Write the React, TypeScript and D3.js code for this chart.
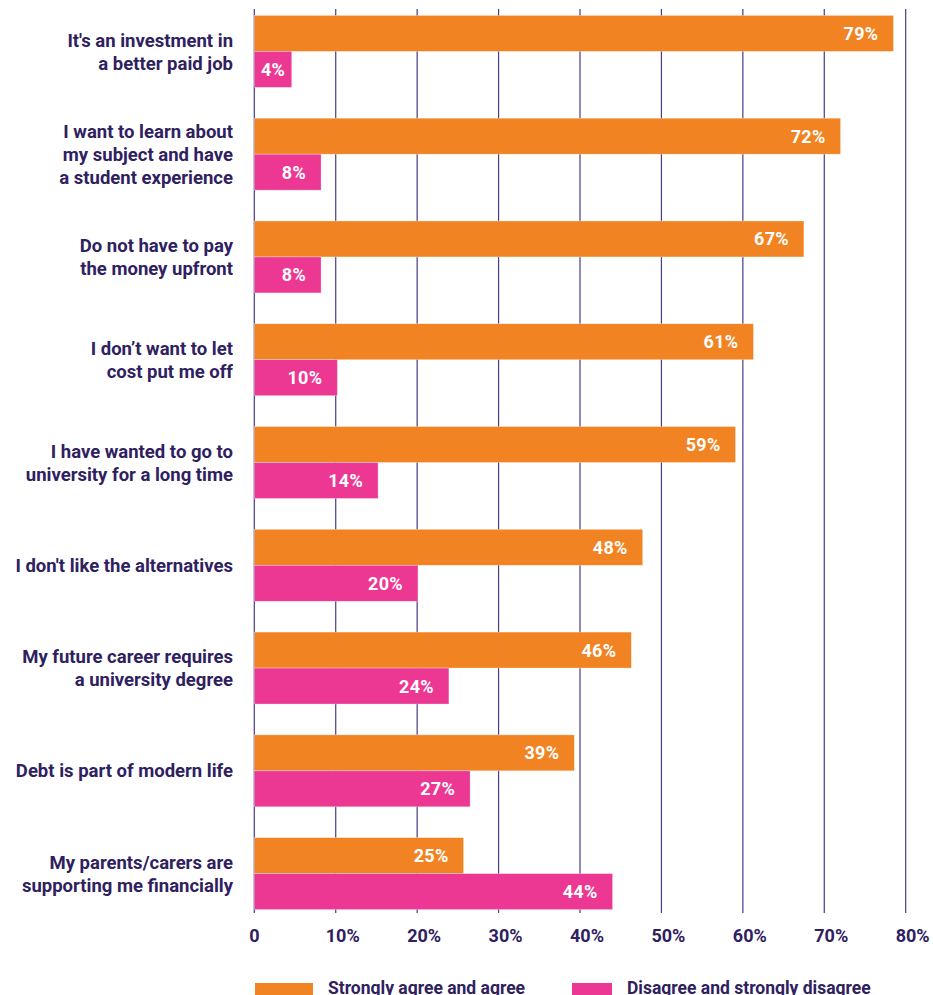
import React from "react";
import * as d3 from "d3";

const categories = [
  "It's an investment in\na better paid job",
  "I want to learn about\nmy subject and have\na student experience",
  "Do not have to pay\nthe money upfront",
  "I don\u2019t want to let\ncost put me off",
  "I have wanted to go to\nuniversity for a long time",
  "I don't like the alternatives",
  "My future career requires\na university degree",
  "Debt is part of modern life",
  "My parents/carers are\nsupporting me financially",
];
const seriesNames = ["Strongly agree and agree", "Disagree and strongly disagree"];
const agreeValues = [78.5, 72, 67.5, 61.3, 59.1, 47.7, 46.3, 39.3, 25.7];
const agreeLabels = ["79%", "72%", "67%", "61%", "59%", "48%", "46%", "39%", "25%"];
const disagreeValues = [4.6, 8.2, 8.2, 10.2, 15.2, 20.1, 23.9, 26.5, 44.0];
const disagreeLabels = ["4%", "8%", "8%", "10%", "14%", "20%", "24%", "27%", "44%"];
const tickValues = [0, 10, 20, 30, 40, 50, 60, 70, 80];
const tickLabels = ["0", "10%", "20%", "30%", "40%", "50%", "60%", "70%", "80%"];

const ORANGE = "#F28322";
const PINK = "#EC3893";
const PURPLE = "#2F2160";
const GRID = "#4A3A8A";
const FONT = "Roboto, 'Liberation Sans', Arial, sans-serif";

export default function App() {
  const W = 933;
  const H = 995;
  const x = d3.scaleLinear().domain([0, 80]).range([254.3, 905.7]);
  const y = d3.scaleBand<string>().domain(categories).range([0, 925]).paddingInner(0.3).paddingOuter(0.15);
  const inner = d3.scaleBand<string>().domain(seriesNames).range([0, y.bandwidth()]);
  const colors = d3.scaleOrdinal<string, string>().domain(seriesNames).range([ORANGE, PINK]);
  const series = [
    { name: seriesNames[0], values: agreeValues, labels: agreeLabels },
    { name: seriesNames[1], values: disagreeValues, labels: disagreeLabels },
  ];
  const gridTop = 9;
  const gridBottom = 913;
  const lineH = 23;

  return (
    <svg width={W} height={H} style={{ position: "absolute", left: 0, top: 0, background: "#fff" }} fontFamily={FONT}>
      {tickValues.map((t) => (
        <line key={t} x1={x(t)} x2={x(t)} y1={gridTop} y2={gridBottom} stroke={GRID} strokeWidth={1.2} />
      ))}
      {categories.map((c, i) => {
        const y0 = y(c)!;
        return (
          <g key={c}>
            {series.map((s) => {
              const w = x(s.values[i]) - x(0);
              const small = w < 50;
              return (
                <g key={s.name}>
                  <rect
                    x={x(0)}
                    y={y0 + inner(s.name)!}
                    width={w}
                    height={inner.bandwidth()}
                    fill={colors(s.name)}
                    stroke="#fff"
                    strokeOpacity={0.5}
                    strokeWidth={0.6}
                  />
                  <text
                    x={small ? (x(s.values[i]) + x(0)) / 2 : x(s.values[i]) - 15}
                    y={y0 + inner(s.name)! + inner.bandwidth() / 2}
                    dy="0.36em"
                    textAnchor={small ? "middle" : "end"}
                    fill="#fff"
                    fontWeight={700}
                    fontSize={18}
                    letterSpacing={0.3}
                  >
                    {s.labels[i]}
                  </text>
                </g>
              );
            })}
            {(() => {
              const lines = c.split("\n");
              const cy = y0 + y.bandwidth() / 2;
              const start = cy - ((lines.length - 1) * lineH) / 2;
              return (
                <text textAnchor="end" fill={PURPLE} fontWeight={700} fontSize={18.5}>
                  {lines.map((l, k) => (
                    <tspan key={k} x={233} y={start + k * lineH} dy="0.36em">
                      {l}
                    </tspan>
                  ))}
                </text>
              );
            })()}
          </g>
        );
      })}
      {tickValues.map((t, i) => (
        <text
          key={"tl" + t}
          x={x(t) + (t > 0 ? 7 : 0)}
          y={942}
          textAnchor="middle"
          fill={PURPLE}
          fontWeight={700}
          fontSize={18}
        >
          {tickLabels[i]}
        </text>
      ))}
      {series.map((s, i) => {
        const lx = [255, 572][i];
        const rw = [58, 40][i];
        return (
          <g key={"lg" + s.name}>
            <rect x={lx} y={983} width={rw} height={16} fill={colors(s.name)} />
            <text x={lx + rw + 15} y={993.5} fill={PURPLE} fontWeight={700} fontSize={17.5}>
              {s.name}
            </text>
          </g>
        );
      })}
    </svg>
  );
}
